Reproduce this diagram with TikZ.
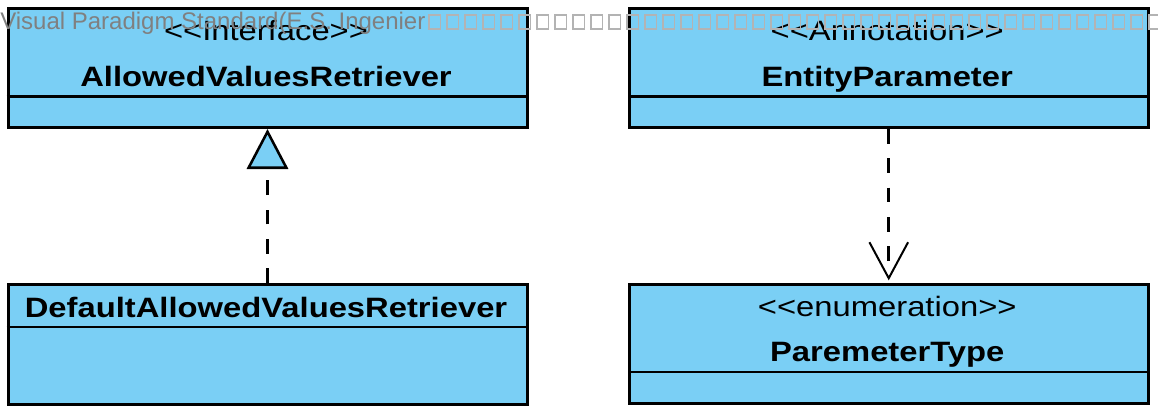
\documentclass[tikz,border=0pt]{standalone}
\usepackage{fontspec}
\setmainfont{Liberation Sans}
\newfontfamily\umlfont[FakeStretch=1.17]{Liberation Sans}
\usetikzlibrary{positioning,arrows.meta}
\definecolor{classBlue}{HTML}{7ACFF5}
\definecolor{markGray}{HTML}{808080}
\newcommand{\stereo}[1]{\textless\textless#1\textgreater\textgreater}

\begin{document}
\begin{tikzpicture}[
    x=0.75pt, y=-0.75pt,
    classBox/.style={rectangle, draw=black, fill=classBlue, line width=2.25pt, inner sep=0pt, anchor=north west},
    sepLine/.style={line width=1.7pt, draw=black},
    stereoText/.style={font=\umlfont\fontsize{21}{25}\selectfont, inner sep=0pt, anchor=base},
    nameText/.style={font=\umlfont\bfseries\fontsize{21}{25}\selectfont, inner sep=0pt, anchor=base},
    realizeArrow/.style={-{Triangle[length=30pt, width=31pt, fill=classBlue, line width=1.9pt]}, line width=1.9pt, dash pattern=on 11pt off 11pt},
    dependArrow/.style={-{Straight Barb[length=27pt, width=29pt, line width=1.5pt]}, line width=1.9pt, dash pattern=on 11pt off 11pt, shorten >=2pt},
    watermarkText/.style={font=\fontsize{18}{21}\selectfont, text=markGray, inner sep=0pt, anchor=base west},
    tofuBox/.style={draw=markGray!60, line width=0.8pt}
]
    \useasboundingbox (0,0) rectangle (1158,414);

    % class boxes
    \node[classBox, minimum width=389.25pt, minimum height=89.625pt] (ifaceBox) at (6.5,6.5) {};
    \node[classBox, minimum width=388.875pt, minimum height=89.625pt] (annotBox) at (628,6.5) {};
    \node[classBox, minimum width=389.25pt, minimum height=89.625pt] (implBox) at (6.5,283) {};
    \node[classBox, minimum width=388.875pt, minimum height=88.875pt] (enumBox) at (628,283) {};

    \draw[sepLine] ([yshift=-67.5pt]ifaceBox.north west) -- ([yshift=-67.5pt]ifaceBox.north east);
    \draw[sepLine] ([yshift=-67.5pt]annotBox.north west) -- ([yshift=-67.5pt]annotBox.north east);
    \draw[sepLine] ([yshift=-33pt]implBox.north west) -- ([yshift=-33pt]implBox.north east);
    \draw[sepLine] ([yshift=-66.75pt]enumBox.north west) -- ([yshift=-66.75pt]enumBox.north east);

    % labels
    \node[stereoText] (ifaceSt) at (266,40.5) {\stereo{Interface}};
    \node[nameText] (ifaceName) at (266,86) {AllowedValuesRetriever};
    \node[stereoText] (annotSt) at (887.25,40.5) {\stereo{Annotation}};
    \node[nameText] (annotName) at (887.25,86) {EntityParameter};
    \node[nameText] (implName) at (266,317) {DefaultAllowedValuesRetriever};
    \node[stereoText] (enumSt) at (887.25,316.5) {\stereo{enumeration}};
    \node[nameText] (enumName) at (887.25,361) {ParemeterType};

    % relations
    \draw[realizeArrow] (implBox.north) -- (ifaceBox.south);
    \draw[dependArrow] (annotBox.south) -- (enumBox.north);

    % watermark
    \node[watermarkText] (mark) at (0,29) {Visual Paradigm Standard(E.S. Ingenier};
    \foreach \i in {0,...,40}
        \draw[tofuBox] (429+18*\i,15) rectangle ++(11.5,14);
\end{tikzpicture}
\end{document}
